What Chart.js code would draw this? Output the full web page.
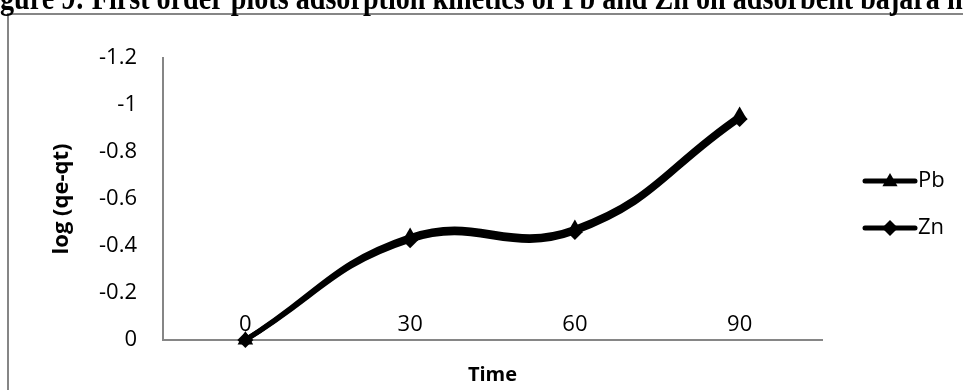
<!DOCTYPE html>
<html>
<head>
<meta charset="utf-8">
<script src="https://cdn.jsdelivr.net/npm/chart.js@4/dist/chart.umd.min.js"></script>
<style>
  html, body { margin: 0; padding: 0; background: #fff; }
</style>
</head>
<body>
<canvas id="myChart" width="963" height="390"></canvas>
<script>
const times = ["0", "30", "60", "90"];
const pbValues = [0, -0.44, -0.475, -0.955];
const znValues = [0, -0.425, -0.46, -0.94];
const yTicks = [-1.2, -1, -0.8, -0.6, -0.4, -0.2, 0];
const seriesNames = ["Pb", "Zn"];
const markerStyles = ["triangle", "rectRot"];
const titleText = "Figure 9: First order plots adsorption kinetics of Pb and Zn on adsorbent bajara husk";

const axisGrey = "#868686";

// border + cut-off title, like the pasted figure
const frame = {
  id: "frame",
  beforeDraw(chart) {
    const c = chart.ctx;
    c.save();
    c.strokeStyle = axisGrey;
    c.lineWidth = 2;
    c.beginPath();
    c.moveTo(8, 400);
    c.lineTo(8, 14);
    c.lineTo(980, 14);
    c.stroke();

    c.font = "bold 20px 'Liberation Serif'";
    const visible = titleText.slice(2, titleText.length - 3);
    const fs = 20 * 963 / c.measureText(visible).width;
    c.font = "bold " + fs + "px 'Liberation Serif'";
    const startX = -c.measureText("Fi").width;
    c.fillStyle = "#000";
    c.textBaseline = "alphabetic";
    c.translate(0, 9);
    c.scale(1, 1.2);
    c.fillText(titleText, startX, 0);
    c.restore();
  }
};

function drawMarker(c, style, x, y, r) {
  c.beginPath();
  if (style === "triangle") {
    c.moveTo(x, y - r);
    c.lineTo(x + r * 0.95, y + r * 0.65);
    c.lineTo(x - r * 0.95, y + r * 0.65);
  } else {
    c.moveTo(x, y - r);
    c.lineTo(x + r, y);
    c.lineTo(x, y + r);
    c.lineTo(x - r, y);
  }
  c.closePath();
  c.fill();
}

// excel style legend on the right: line + marker + name
const sideLegend = {
  id: "sideLegend",
  afterDraw(chart) {
    const c = chart.ctx;
    const rows = [181, 228];
    c.save();
    chart.data.datasets.forEach((ds, i) => {
      const y = rows[i];
      c.strokeStyle = "#000";
      c.fillStyle = "#000";
      c.lineWidth = 5;
      c.lineCap = "round";
      c.beginPath();
      c.moveTo(865, y);
      c.lineTo(915, y);
      c.stroke();
      drawMarker(c, markerStyles[i], 890, y, 8);
      c.font = "22px 'Open Sans'";
      c.textBaseline = "middle";
      c.fillText(ds.label, 918, y);
    });
    c.restore();
  }
};

const ctx = document.getElementById("myChart").getContext("2d");
const myChart = new Chart(ctx, {
  type: "line",
  data: {
    labels: times,
    datasets: [
      {
        label: seriesNames[0],
        data: pbValues,
        borderColor: "#000",
        backgroundColor: "#000",
        borderWidth: 5,
        pointStyle: markerStyles[0],
        pointRadius: 9,
        pointBorderWidth: 0,
        tension: 0.45,
        clip: false
      },
      {
        label: seriesNames[1],
        data: znValues,
        borderColor: "#000",
        backgroundColor: "#000",
        borderWidth: 5,
        pointStyle: markerStyles[1],
        pointRadius: 8,
        pointBorderWidth: 0,
        tension: 0.45,
        clip: false
      }
    ]
  },
  plugins: [frame, sideLegend],
  options: {
    responsive: false,
    animation: false,
    layout: { padding: { left: 49, right: 141, top: 58, bottom: 0 } },
    plugins: {
      legend: { display: false },
      tooltip: { enabled: false }
    },
    scales: {
      x: {
        offset: true,
        grid: { display: false, drawTicks: false },
        border: { display: true, color: axisGrey, width: 2 },
        ticks: {
          mirror: true,
          padding: 2,
          color: "#000",
          font: { family: "'Open Sans'", size: 22 }
        },
        title: {
          display: true,
          text: "Time",
          color: "#000",
          padding: { top: 0, bottom: 3 },
          font: { family: "'Open Sans'", size: 20, weight: "bold" }
        },
        afterFit(scale) { scale.height = 50; }
      },
      y: {
        reverse: true,
        min: -1.2,
        max: 0,
        grid: { display: false, drawTicks: false },
        border: { display: true, color: axisGrey, width: 2 },
        afterBuildTicks(scale) {
          scale.ticks = yTicks.map(v => ({ value: v }));
        },
        ticks: {
          padding: 26,
          color: "#000",
          font: { family: "'Open Sans'", size: 22 },
          callback: v => String(v)
        },
        title: {
          display: true,
          text: "log (qe-qt)",
          color: "#000",
          padding: { top: 0, bottom: 0 },
          font: { family: "'Open Sans'", size: 22, weight: "bold" }
        },
        afterFit(scale) { scale.width = 114; }
      }
    }
  }
});
</script>
</body>
</html>
